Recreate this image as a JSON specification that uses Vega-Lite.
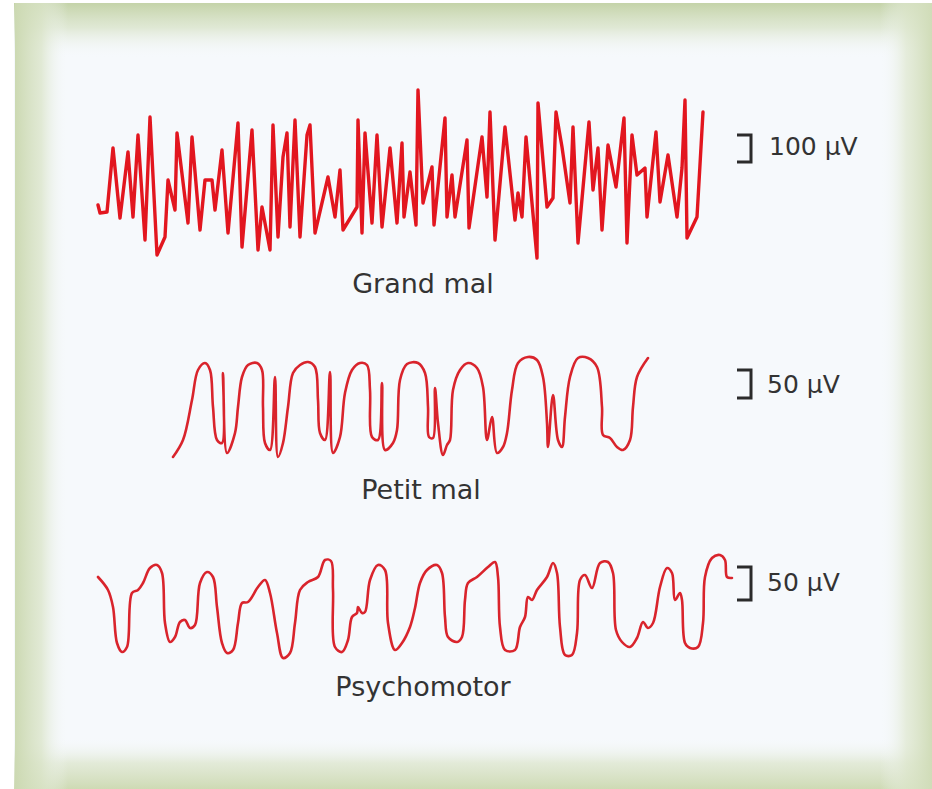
{
  "$schema": "https://vega.github.io/schema/vega-lite/v6.json",
  "width": 932,
  "height": 789,
  "autosize": {"type": "fit", "contains": "padding"},
  "padding": 0,
  "background": "#ffffff",
  "config": {"view": {"stroke": null}},
  "datasets": {
    "eeg": [
      {"trace": "Grand mal", "t": 98, "amp": 205}, {"trace": "Grand mal", "t": 100, "amp": 213}, {"trace": "Grand mal", "t": 107, "amp": 212}, {"trace": "Grand mal", "t": 113, "amp": 148}, {"trace": "Grand mal", "t": 120, "amp": 218}, {"trace": "Grand mal", "t": 128, "amp": 152}, {"trace": "Grand mal", "t": 133, "amp": 217}, {"trace": "Grand mal", "t": 138, "amp": 135}, {"trace": "Grand mal", "t": 145, "amp": 240}, {"trace": "Grand mal", "t": 150, "amp": 117}, {"trace": "Grand mal", "t": 157, "amp": 255}, {"trace": "Grand mal", "t": 165, "amp": 237}, {"trace": "Grand mal", "t": 168, "amp": 180}, {"trace": "Grand mal", "t": 175, "amp": 210}, {"trace": "Grand mal", "t": 177, "amp": 133}, {"trace": "Grand mal", "t": 188, "amp": 223}, {"trace": "Grand mal", "t": 192, "amp": 137}, {"trace": "Grand mal", "t": 200, "amp": 230}, {"trace": "Grand mal", "t": 205, "amp": 180}, {"trace": "Grand mal", "t": 212, "amp": 180}, {"trace": "Grand mal", "t": 215, "amp": 210}, {"trace": "Grand mal", "t": 222, "amp": 150}, {"trace": "Grand mal", "t": 228, "amp": 233}, {"trace": "Grand mal", "t": 238, "amp": 123}, {"trace": "Grand mal", "t": 242, "amp": 247}, {"trace": "Grand mal", "t": 252, "amp": 130}, {"trace": "Grand mal", "t": 258, "amp": 250}, {"trace": "Grand mal", "t": 262, "amp": 207}, {"trace": "Grand mal", "t": 270, "amp": 250}, {"trace": "Grand mal", "t": 273, "amp": 125}, {"trace": "Grand mal", "t": 278, "amp": 237}, {"trace": "Grand mal", "t": 283, "amp": 157}, {"trace": "Grand mal", "t": 287, "amp": 133}, {"trace": "Grand mal", "t": 290, "amp": 227}, {"trace": "Grand mal", "t": 295, "amp": 120}, {"trace": "Grand mal", "t": 300, "amp": 237}, {"trace": "Grand mal", "t": 307, "amp": 135}, {"trace": "Grand mal", "t": 310, "amp": 125}, {"trace": "Grand mal", "t": 315, "amp": 233}, {"trace": "Grand mal", "t": 328, "amp": 177}, {"trace": "Grand mal", "t": 335, "amp": 217}, {"trace": "Grand mal", "t": 340, "amp": 170}, {"trace": "Grand mal", "t": 343, "amp": 230}, {"trace": "Grand mal", "t": 357, "amp": 207}, {"trace": "Grand mal", "t": 358, "amp": 120}, {"trace": "Grand mal", "t": 362, "amp": 233}, {"trace": "Grand mal", "t": 365, "amp": 133}, {"trace": "Grand mal", "t": 372, "amp": 223}, {"trace": "Grand mal", "t": 377, "amp": 135}, {"trace": "Grand mal", "t": 382, "amp": 227}, {"trace": "Grand mal", "t": 390, "amp": 148}, {"trace": "Grand mal", "t": 397, "amp": 223}, {"trace": "Grand mal", "t": 402, "amp": 143}, {"trace": "Grand mal", "t": 404, "amp": 217}, {"trace": "Grand mal", "t": 410, "amp": 172}, {"trace": "Grand mal", "t": 416, "amp": 225}, {"trace": "Grand mal", "t": 418, "amp": 90}, {"trace": "Grand mal", "t": 423, "amp": 203}, {"trace": "Grand mal", "t": 432, "amp": 167}, {"trace": "Grand mal", "t": 434, "amp": 225}, {"trace": "Grand mal", "t": 445, "amp": 118}, {"trace": "Grand mal", "t": 447, "amp": 217}, {"trace": "Grand mal", "t": 452, "amp": 175}, {"trace": "Grand mal", "t": 455, "amp": 217}, {"trace": "Grand mal", "t": 467, "amp": 140}, {"trace": "Grand mal", "t": 469, "amp": 228}, {"trace": "Grand mal", "t": 482, "amp": 137}, {"trace": "Grand mal", "t": 487, "amp": 197}, {"trace": "Grand mal", "t": 490, "amp": 112}, {"trace": "Grand mal", "t": 495, "amp": 240}, {"trace": "Grand mal", "t": 505, "amp": 127}, {"trace": "Grand mal", "t": 515, "amp": 220}, {"trace": "Grand mal", "t": 518, "amp": 193}, {"trace": "Grand mal", "t": 522, "amp": 217}, {"trace": "Grand mal", "t": 526, "amp": 137}, {"trace": "Grand mal", "t": 537, "amp": 258}, {"trace": "Grand mal", "t": 538, "amp": 103}, {"trace": "Grand mal", "t": 547, "amp": 207}, {"trace": "Grand mal", "t": 553, "amp": 198}, {"trace": "Grand mal", "t": 556, "amp": 112}, {"trace": "Grand mal", "t": 562, "amp": 147}, {"trace": "Grand mal", "t": 570, "amp": 203}, {"trace": "Grand mal", "t": 573, "amp": 127}, {"trace": "Grand mal", "t": 578, "amp": 243}, {"trace": "Grand mal", "t": 589, "amp": 122}, {"trace": "Grand mal", "t": 593, "amp": 190}, {"trace": "Grand mal", "t": 598, "amp": 148}, {"trace": "Grand mal", "t": 602, "amp": 230}, {"trace": "Grand mal", "t": 608, "amp": 145}, {"trace": "Grand mal", "t": 616, "amp": 187}, {"trace": "Grand mal", "t": 624, "amp": 118}, {"trace": "Grand mal", "t": 627, "amp": 243}, {"trace": "Grand mal", "t": 632, "amp": 135}, {"trace": "Grand mal", "t": 637, "amp": 175}, {"trace": "Grand mal", "t": 645, "amp": 168}, {"trace": "Grand mal", "t": 647, "amp": 217}, {"trace": "Grand mal", "t": 656, "amp": 132}, {"trace": "Grand mal", "t": 660, "amp": 202}, {"trace": "Grand mal", "t": 668, "amp": 155}, {"trace": "Grand mal", "t": 677, "amp": 217}, {"trace": "Grand mal", "t": 682, "amp": 168}, {"trace": "Grand mal", "t": 685, "amp": 100}, {"trace": "Grand mal", "t": 687, "amp": 238}, {"trace": "Grand mal", "t": 697, "amp": 217}, {"trace": "Grand mal", "t": 703, "amp": 112},

      {"trace": "Petit mal", "t": 173, "amp": 457}, {"trace": "Petit mal", "t": 183, "amp": 440}, {"trace": "Petit mal", "t": 192, "amp": 400}, {"trace": "Petit mal", "t": 198, "amp": 370}, {"trace": "Petit mal", "t": 205, "amp": 363}, {"trace": "Petit mal", "t": 210, "amp": 370}, {"trace": "Petit mal", "t": 213, "amp": 407}, {"trace": "Petit mal", "t": 217, "amp": 440}, {"trace": "Petit mal", "t": 222, "amp": 443}, {"trace": "Petit mal", "t": 223, "amp": 373}, {"trace": "Petit mal", "t": 227, "amp": 453}, {"trace": "Petit mal", "t": 235, "amp": 433}, {"trace": "Petit mal", "t": 238, "amp": 407}, {"trace": "Petit mal", "t": 242, "amp": 377}, {"trace": "Petit mal", "t": 248, "amp": 365}, {"trace": "Petit mal", "t": 257, "amp": 363}, {"trace": "Petit mal", "t": 262, "amp": 370}, {"trace": "Petit mal", "t": 263, "amp": 407}, {"trace": "Petit mal", "t": 265, "amp": 443}, {"trace": "Petit mal", "t": 270, "amp": 450}, {"trace": "Petit mal", "t": 275, "amp": 377}, {"trace": "Petit mal", "t": 278, "amp": 457}, {"trace": "Petit mal", "t": 283, "amp": 443}, {"trace": "Petit mal", "t": 288, "amp": 407}, {"trace": "Petit mal", "t": 293, "amp": 373}, {"trace": "Petit mal", "t": 300, "amp": 365}, {"trace": "Petit mal", "t": 308, "amp": 362}, {"trace": "Petit mal", "t": 315, "amp": 367}, {"trace": "Petit mal", "t": 318, "amp": 400}, {"trace": "Petit mal", "t": 320, "amp": 433}, {"trace": "Petit mal", "t": 325, "amp": 440}, {"trace": "Petit mal", "t": 330, "amp": 372}, {"trace": "Petit mal", "t": 333, "amp": 453}, {"trace": "Petit mal", "t": 340, "amp": 437}, {"trace": "Petit mal", "t": 345, "amp": 393}, {"trace": "Petit mal", "t": 352, "amp": 370}, {"trace": "Petit mal", "t": 360, "amp": 363}, {"trace": "Petit mal", "t": 367, "amp": 365}, {"trace": "Petit mal", "t": 370, "amp": 390}, {"trace": "Petit mal", "t": 372, "amp": 437}, {"trace": "Petit mal", "t": 378, "amp": 440}, {"trace": "Petit mal", "t": 382, "amp": 383}, {"trace": "Petit mal", "t": 385, "amp": 450}, {"trace": "Petit mal", "t": 393, "amp": 443}, {"trace": "Petit mal", "t": 397, "amp": 430}, {"trace": "Petit mal", "t": 400, "amp": 380}, {"trace": "Petit mal", "t": 407, "amp": 364}, {"trace": "Petit mal", "t": 418, "amp": 363}, {"trace": "Petit mal", "t": 425, "amp": 373}, {"trace": "Petit mal", "t": 428, "amp": 407}, {"trace": "Petit mal", "t": 429, "amp": 437}, {"trace": "Petit mal", "t": 433, "amp": 438}, {"trace": "Petit mal", "t": 435, "amp": 388}, {"trace": "Petit mal", "t": 438, "amp": 423}, {"trace": "Petit mal", "t": 443, "amp": 455}, {"trace": "Petit mal", "t": 447, "amp": 445}, {"trace": "Petit mal", "t": 450, "amp": 440}, {"trace": "Petit mal", "t": 453, "amp": 390}, {"trace": "Petit mal", "t": 460, "amp": 370}, {"trace": "Petit mal", "t": 468, "amp": 363}, {"trace": "Petit mal", "t": 477, "amp": 368}, {"trace": "Petit mal", "t": 483, "amp": 387}, {"trace": "Petit mal", "t": 487, "amp": 440}, {"trace": "Petit mal", "t": 492, "amp": 417}, {"trace": "Petit mal", "t": 497, "amp": 453}, {"trace": "Petit mal", "t": 503, "amp": 447}, {"trace": "Petit mal", "t": 507, "amp": 433}, {"trace": "Petit mal", "t": 512, "amp": 390}, {"trace": "Petit mal", "t": 518, "amp": 363}, {"trace": "Petit mal", "t": 528, "amp": 357}, {"trace": "Petit mal", "t": 537, "amp": 360}, {"trace": "Petit mal", "t": 543, "amp": 377}, {"trace": "Petit mal", "t": 547, "amp": 423}, {"trace": "Petit mal", "t": 548, "amp": 447}, {"trace": "Petit mal", "t": 553, "amp": 395}, {"trace": "Petit mal", "t": 558, "amp": 440}, {"trace": "Petit mal", "t": 562, "amp": 447}, {"trace": "Petit mal", "t": 565, "amp": 417}, {"trace": "Petit mal", "t": 570, "amp": 377}, {"trace": "Petit mal", "t": 578, "amp": 358}, {"trace": "Petit mal", "t": 588, "amp": 358}, {"trace": "Petit mal", "t": 597, "amp": 367}, {"trace": "Petit mal", "t": 602, "amp": 407}, {"trace": "Petit mal", "t": 603, "amp": 435}, {"trace": "Petit mal", "t": 610, "amp": 438}, {"trace": "Petit mal", "t": 617, "amp": 447}, {"trace": "Petit mal", "t": 623, "amp": 450}, {"trace": "Petit mal", "t": 630, "amp": 440}, {"trace": "Petit mal", "t": 633, "amp": 407}, {"trace": "Petit mal", "t": 637, "amp": 377}, {"trace": "Petit mal", "t": 648, "amp": 358},

      {"trace": "Psychomotor", "t": 98, "amp": 577}, {"trace": "Psychomotor", "t": 108, "amp": 590}, {"trace": "Psychomotor", "t": 113, "amp": 607}, {"trace": "Psychomotor", "t": 117, "amp": 643}, {"trace": "Psychomotor", "t": 122, "amp": 652}, {"trace": "Psychomotor", "t": 127, "amp": 647}, {"trace": "Psychomotor", "t": 132, "amp": 593}, {"trace": "Psychomotor", "t": 138, "amp": 590}, {"trace": "Psychomotor", "t": 143, "amp": 583}, {"trace": "Psychomotor", "t": 150, "amp": 568}, {"trace": "Psychomotor", "t": 157, "amp": 565}, {"trace": "Psychomotor", "t": 162, "amp": 573}, {"trace": "Psychomotor", "t": 165, "amp": 623}, {"trace": "Psychomotor", "t": 170, "amp": 642}, {"trace": "Psychomotor", "t": 175, "amp": 637}, {"trace": "Psychomotor", "t": 180, "amp": 622}, {"trace": "Psychomotor", "t": 185, "amp": 620}, {"trace": "Psychomotor", "t": 190, "amp": 628}, {"trace": "Psychomotor", "t": 195, "amp": 625}, {"trace": "Psychomotor", "t": 200, "amp": 583}, {"trace": "Psychomotor", "t": 207, "amp": 572}, {"trace": "Psychomotor", "t": 213, "amp": 577}, {"trace": "Psychomotor", "t": 217, "amp": 607}, {"trace": "Psychomotor", "t": 222, "amp": 643}, {"trace": "Psychomotor", "t": 227, "amp": 653}, {"trace": "Psychomotor", "t": 233, "amp": 650}, {"trace": "Psychomotor", "t": 238, "amp": 623}, {"trace": "Psychomotor", "t": 242, "amp": 603}, {"trace": "Psychomotor", "t": 248, "amp": 602}, {"trace": "Psychomotor", "t": 258, "amp": 587}, {"trace": "Psychomotor", "t": 265, "amp": 580}, {"trace": "Psychomotor", "t": 270, "amp": 593}, {"trace": "Psychomotor", "t": 277, "amp": 633}, {"trace": "Psychomotor", "t": 283, "amp": 658}, {"trace": "Psychomotor", "t": 290, "amp": 653}, {"trace": "Psychomotor", "t": 295, "amp": 623}, {"trace": "Psychomotor", "t": 300, "amp": 590}, {"trace": "Psychomotor", "t": 308, "amp": 582}, {"trace": "Psychomotor", "t": 318, "amp": 577}, {"trace": "Psychomotor", "t": 325, "amp": 560}, {"trace": "Psychomotor", "t": 331, "amp": 561}, {"trace": "Psychomotor", "t": 333, "amp": 590}, {"trace": "Psychomotor", "t": 335, "amp": 647}, {"trace": "Psychomotor", "t": 342, "amp": 652}, {"trace": "Psychomotor", "t": 348, "amp": 640}, {"trace": "Psychomotor", "t": 352, "amp": 617}, {"trace": "Psychomotor", "t": 357, "amp": 613}, {"trace": "Psychomotor", "t": 358, "amp": 607}, {"trace": "Psychomotor", "t": 362, "amp": 613}, {"trace": "Psychomotor", "t": 365, "amp": 612}, {"trace": "Psychomotor", "t": 370, "amp": 580}, {"trace": "Psychomotor", "t": 378, "amp": 565}, {"trace": "Psychomotor", "t": 385, "amp": 570}, {"trace": "Psychomotor", "t": 388, "amp": 623}, {"trace": "Psychomotor", "t": 395, "amp": 650}, {"trace": "Psychomotor", "t": 402, "amp": 643}, {"trace": "Psychomotor", "t": 410, "amp": 627}, {"trace": "Psychomotor", "t": 415, "amp": 608}, {"trace": "Psychomotor", "t": 420, "amp": 583}, {"trace": "Psychomotor", "t": 427, "amp": 570}, {"trace": "Psychomotor", "t": 437, "amp": 565}, {"trace": "Psychomotor", "t": 442, "amp": 573}, {"trace": "Psychomotor", "t": 445, "amp": 617}, {"trace": "Psychomotor", "t": 448, "amp": 637}, {"trace": "Psychomotor", "t": 457, "amp": 642}, {"trace": "Psychomotor", "t": 462, "amp": 637}, {"trace": "Psychomotor", "t": 465, "amp": 600}, {"trace": "Psychomotor", "t": 468, "amp": 583}, {"trace": "Psychomotor", "t": 477, "amp": 577}, {"trace": "Psychomotor", "t": 488, "amp": 567}, {"trace": "Psychomotor", "t": 495, "amp": 562}, {"trace": "Psychomotor", "t": 498, "amp": 577}, {"trace": "Psychomotor", "t": 500, "amp": 627}, {"trace": "Psychomotor", "t": 505, "amp": 650}, {"trace": "Psychomotor", "t": 515, "amp": 650}, {"trace": "Psychomotor", "t": 520, "amp": 627}, {"trace": "Psychomotor", "t": 525, "amp": 617}, {"trace": "Psychomotor", "t": 528, "amp": 597}, {"trace": "Psychomotor", "t": 532, "amp": 600}, {"trace": "Psychomotor", "t": 537, "amp": 590}, {"trace": "Psychomotor", "t": 547, "amp": 577}, {"trace": "Psychomotor", "t": 553, "amp": 563}, {"trace": "Psychomotor", "t": 557, "amp": 573}, {"trace": "Psychomotor", "t": 560, "amp": 627}, {"trace": "Psychomotor", "t": 565, "amp": 655}, {"trace": "Psychomotor", "t": 572, "amp": 655}, {"trace": "Psychomotor", "t": 577, "amp": 633}, {"trace": "Psychomotor", "t": 580, "amp": 580}, {"trace": "Psychomotor", "t": 585, "amp": 575}, {"trace": "Psychomotor", "t": 592, "amp": 588}, {"trace": "Psychomotor", "t": 600, "amp": 563}, {"trace": "Psychomotor", "t": 608, "amp": 562}, {"trace": "Psychomotor", "t": 613, "amp": 573}, {"trace": "Psychomotor", "t": 616, "amp": 630}, {"trace": "Psychomotor", "t": 622, "amp": 642}, {"trace": "Psychomotor", "t": 630, "amp": 647}, {"trace": "Psychomotor", "t": 637, "amp": 638}, {"trace": "Psychomotor", "t": 643, "amp": 622}, {"trace": "Psychomotor", "t": 648, "amp": 628}, {"trace": "Psychomotor", "t": 653, "amp": 623}, {"trace": "Psychomotor", "t": 660, "amp": 587}, {"trace": "Psychomotor", "t": 667, "amp": 568}, {"trace": "Psychomotor", "t": 672, "amp": 573}, {"trace": "Psychomotor", "t": 675, "amp": 600}, {"trace": "Psychomotor", "t": 680, "amp": 593}, {"trace": "Psychomotor", "t": 682, "amp": 600}, {"trace": "Psychomotor", "t": 685, "amp": 643}, {"trace": "Psychomotor", "t": 690, "amp": 648}, {"trace": "Psychomotor", "t": 698, "amp": 647}, {"trace": "Psychomotor", "t": 703, "amp": 623}, {"trace": "Psychomotor", "t": 705, "amp": 577}, {"trace": "Psychomotor", "t": 712, "amp": 558}, {"trace": "Psychomotor", "t": 720, "amp": 555}, {"trace": "Psychomotor", "t": 725, "amp": 560}, {"trace": "Psychomotor", "t": 727, "amp": 577}, {"trace": "Psychomotor", "t": 732, "amp": 578}
    ],
    "scalebars": [
      {"bar": "100", "t": 737, "amp": 135}, {"bar": "100", "t": 751, "amp": 135}, {"bar": "100", "t": 751, "amp": 162}, {"bar": "100", "t": 737, "amp": 162},
      {"bar": "50a", "t": 737, "amp": 370}, {"bar": "50a", "t": 751, "amp": 370}, {"bar": "50a", "t": 751, "amp": 398}, {"bar": "50a", "t": 737, "amp": 398},
      {"bar": "50b", "t": 737, "amp": 567}, {"bar": "50b", "t": 751, "amp": 567}, {"bar": "50b", "t": 751, "amp": 600}, {"bar": "50b", "t": 737, "amp": 600}
    ],
    "one": [{}]
  },
  "layer": [
    {
      "data": {"name": "one"},
      "mark": {"type": "rect", "fill": "#f6f9fc"},
      "encoding": {
        "x": {"datum": 14, "type": "quantitative", "scale": {"domain": [0, 932], "nice": false, "zero": false}, "axis": null},
        "x2": {"datum": 932},
        "y": {"datum": 3, "type": "quantitative", "scale": {"domain": [0, 789], "nice": false, "zero": false, "reverse": true}, "axis": null},
        "y2": {"datum": 789}
      }
    },
    {
      "data": {"name": "one"},
      "mark": {"type": "rect", "fill": {"gradient": "linear", "x1": 0, "y1": 0, "x2": 0, "y2": 1, "stops": [{"offset": 0, "color": "rgba(196,211,168,1)"}, {"offset": 0.45, "color": "rgba(214,225,196,0.7)"}, {"offset": 1, "color": "rgba(246,249,252,0)"}]}},
      "encoding": {
        "x": {"datum": 14, "type": "quantitative", "axis": null},
        "x2": {"datum": 932},
        "y": {"datum": 3, "type": "quantitative", "axis": null},
        "y2": {"datum": 58}
      }
    },
    {
      "data": {"name": "one"},
      "mark": {"type": "rect", "fill": {"gradient": "linear", "x1": 0, "y1": 1, "x2": 0, "y2": 0, "stops": [{"offset": 0, "color": "rgba(206,218,180,1)"}, {"offset": 0.5, "color": "rgba(220,229,204,0.75)"}, {"offset": 1, "color": "rgba(246,249,252,0)"}]}},
      "encoding": {
        "x": {"datum": 14, "type": "quantitative", "axis": null},
        "x2": {"datum": 932},
        "y": {"datum": 737, "type": "quantitative", "axis": null},
        "y2": {"datum": 789}
      }
    },
    {
      "data": {"name": "one"},
      "mark": {"type": "rect", "fill": {"gradient": "linear", "x1": 0, "y1": 0, "x2": 1, "y2": 0, "stops": [{"offset": 0, "color": "rgba(204,217,178,1)"}, {"offset": 0.5, "color": "rgba(218,228,200,0.75)"}, {"offset": 1, "color": "rgba(246,249,252,0)"}]}},
      "encoding": {
        "x": {"datum": 15, "type": "quantitative", "axis": null},
        "x2": {"datum": 68},
        "y": {"datum": 3, "type": "quantitative", "axis": null},
        "y2": {"datum": 789}
      }
    },
    {
      "data": {"name": "one"},
      "mark": {"type": "rect", "fill": {"gradient": "linear", "x1": 1, "y1": 0, "x2": 0, "y2": 0, "stops": [{"offset": 0, "color": "rgba(208,220,184,1)"}, {"offset": 0.5, "color": "rgba(222,231,206,0.7)"}, {"offset": 1, "color": "rgba(246,249,252,0)"}]}},
      "encoding": {
        "x": {"datum": 880, "type": "quantitative", "axis": null},
        "x2": {"datum": 932},
        "y": {"datum": 3, "type": "quantitative", "axis": null},
        "y2": {"datum": 789}
      }
    },
    {
      "data": {"name": "eeg"},
      "transform": [{"filter": "datum.trace === 'Grand mal'"}],
      "mark": {"type": "line", "color": "#e2161f", "strokeWidth": 3.4, "strokeJoin": "round", "strokeCap": "round"},
      "encoding": {
        "x": {"field": "t", "type": "quantitative", "axis": null},
        "y": {"field": "amp", "type": "quantitative", "axis": null},
        "order": {"value": null}
      }
    },
    {
      "data": {"name": "eeg"},
      "transform": [{"filter": "datum.trace === 'Petit mal'"}],
      "mark": {"type": "line", "color": "#d9242c", "strokeWidth": 2.6, "interpolate": "catmull-rom", "strokeJoin": "round", "strokeCap": "round"},
      "encoding": {
        "x": {"field": "t", "type": "quantitative", "axis": null},
        "y": {"field": "amp", "type": "quantitative", "axis": null},
        "order": {"value": null}
      }
    },
    {
      "data": {"name": "eeg"},
      "transform": [{"filter": "datum.trace === 'Psychomotor'"}],
      "mark": {"type": "line", "color": "#d9242c", "strokeWidth": 2.6, "interpolate": "catmull-rom", "strokeJoin": "round", "strokeCap": "round"},
      "encoding": {
        "x": {"field": "t", "type": "quantitative", "axis": null},
        "y": {"field": "amp", "type": "quantitative", "axis": null},
        "order": {"value": null}
      }
    },
    {
      "data": {"name": "scalebars"},
      "mark": {"type": "line", "color": "#2b2b2b", "strokeWidth": 3, "strokeJoin": "miter"},
      "encoding": {
        "x": {"field": "t", "type": "quantitative", "axis": null},
        "y": {"field": "amp", "type": "quantitative", "axis": null},
        "detail": {"field": "bar"},
        "order": {"value": null}
      }
    },
    {
      "data": {"name": "one"},
      "mark": {"type": "text", "text": "100 µV", "font": "DejaVu Sans", "fontSize": 25, "color": "#333333", "align": "left", "baseline": "middle"},
      "encoding": {"x": {"datum": 769, "type": "quantitative"}, "y": {"datum": 147, "type": "quantitative"}}
    },
    {
      "data": {"name": "one"},
      "mark": {"type": "text", "text": "50 µV", "font": "DejaVu Sans", "fontSize": 25, "color": "#333333", "align": "left", "baseline": "middle"},
      "encoding": {"x": {"datum": 767, "type": "quantitative"}, "y": {"datum": 385, "type": "quantitative"}}
    },
    {
      "data": {"name": "one"},
      "mark": {"type": "text", "text": "50 µV", "font": "DejaVu Sans", "fontSize": 25, "color": "#333333", "align": "left", "baseline": "middle"},
      "encoding": {"x": {"datum": 767, "type": "quantitative"}, "y": {"datum": 583, "type": "quantitative"}}
    },
    {
      "data": {"name": "one"},
      "mark": {"type": "text", "text": "Grand mal", "font": "DejaVu Sans", "fontSize": 27, "color": "#333333", "align": "center", "baseline": "middle"},
      "encoding": {"x": {"datum": 423, "type": "quantitative"}, "y": {"datum": 285, "type": "quantitative"}}
    },
    {
      "data": {"name": "one"},
      "mark": {"type": "text", "text": "Petit mal", "font": "DejaVu Sans", "fontSize": 27, "color": "#333333", "align": "center", "baseline": "middle"},
      "encoding": {"x": {"datum": 421, "type": "quantitative"}, "y": {"datum": 491, "type": "quantitative"}}
    },
    {
      "data": {"name": "one"},
      "mark": {"type": "text", "text": "Psychomotor", "font": "DejaVu Sans", "fontSize": 27, "color": "#333333", "align": "center", "baseline": "middle"},
      "encoding": {"x": {"datum": 423, "type": "quantitative"}, "y": {"datum": 688, "type": "quantitative"}}
    }
  ]
}
